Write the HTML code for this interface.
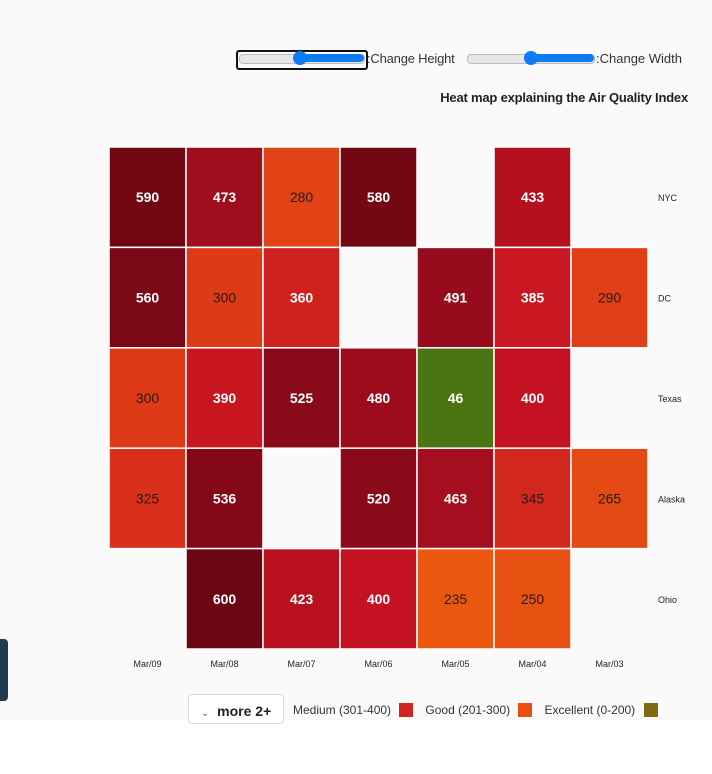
<!DOCTYPE html>
<html><head><meta charset="utf-8"><style>
body{margin:0;width:712px;height:774px;background:#fff;font-family:"Liberation Sans","DejaVu Sans",sans-serif;position:relative;overflow:hidden}
#bg{position:absolute;left:0;top:0;width:712px;height:720px;background:#fafafa}
.slider{position:absolute;height:8px;border-radius:4px;background:#e6e6e6;border:1px solid #bbb}
.slider .fill{position:absolute;right:0;top:-1px;height:8px;background:#0d7cf2;border-radius:4px}
.slider .thumb{position:absolute;top:-4px;width:14px;height:14px;border-radius:50%;background:#0d7cf2}
.lbl{position:absolute;font-size:13px;color:#333}
</style></head><body>
<div id="bg"></div>
<div style="position:absolute;left:236px;top:50px;width:128px;height:16px;border:2px solid #111;border-radius:3px"></div>
<div class="slider" style="left:239px;top:54px;width:124px"><div class="fill" style="width:66px"></div><div class="thumb" style="left:53px"></div></div>
<div class="lbl" style="left:367px;top:51px;letter-spacing:-0.2px">:Change Height</div>
<div class="slider" style="left:467px;top:54px;width:126px"><div class="fill" style="width:66px"></div><div class="thumb" style="left:56px"></div></div>
<div class="lbl" style="left:596px;top:51px">:Change Width</div>
<div style="position:absolute;right:24px;top:90px;font-size:13px;font-weight:bold;color:#222;letter-spacing:-0.2px">Heat map explaining the Air Quality Index</div>
<svg id="hm" width="712" height="720" style="position:absolute;left:0;top:0"></svg>
<div style="position:absolute;left:-4px;top:639px;width:12px;height:62px;background:#1e3b50;border-radius:4px"></div>
<div style="position:absolute;left:188px;top:694px;width:96px;height:30px;border:1px solid #ddd;border-radius:4px;background:#fff;font-size:14px;font-weight:bold;color:#222;box-sizing:border-box;padding:8px 0 0 12px"><span style="font-weight:normal;font-size:10px;color:#666">⌄</span>&nbsp; more 2+</div>
<div style="position:absolute;left:293px;top:703px;font-size:12px;color:#333;white-space:nowrap">
<span>Medium (301-400) <span style="display:inline-block;width:14px;height:14px;background:#d2231f;vertical-align:-3px;margin:0 12px 0 5px"></span></span><span>Good (201-300) <span style="display:inline-block;width:14px;height:14px;background:#e94e14;vertical-align:-3px;margin:0 12px 0 5px"></span></span><span>Excellent (0-200) <span style="display:inline-block;width:14px;height:14px;background:#7f6a10;vertical-align:-3px;margin-left:5px"></span></span>
</div>
<script>
const columns=["Mar/09","Mar/08","Mar/07","Mar/06","Mar/05","Mar/04","Mar/03"];
const rows=["NYC","DC","Texas","Alaska","Ohio"];
const nycValues=[590,473,280,580,null,433,null];
const dcValues=[560,300,360,null,491,385,290];
const texasValues=[300,390,525,480,46,400,null];
const alaskaValues=[325,536,null,520,463,345,265];
const ohioValues=[null,600,423,400,235,250,null];
const values=[nycValues,dcValues,texasValues,alaskaValues,ohioValues];
const X0=109,CW=77,Y0=147,RH=100.4;
const xPos=i=>X0+i*CW, yPos=j=>Y0+j*RH;
const stops=[[200,[74,117,18]],[201,[236,96,14]],[235,[234,88,16]],[300,[222,58,24]],[400,[197,18,34]],[500,[146,11,27]],[600,[108,6,18]]];
function color(v){
  if(v<=200) return 'rgb(74,117,18)';
  for(let k=1;k<stops.length;k++){if(v<=stops[k][0]){const a=stops[k-1],b=stops[k];const t=(v-a[0])/(b[0]-a[0]);return 'rgb('+a[1].map((c,i)=>Math.round(c+(b[1][i]-c)*t)).join(',')+')';}}
  return 'rgb(108,6,18)';
}
const svg=document.getElementById('hm');const NS='http://www.w3.org/2000/svg';
function mk(t,a){const e=document.createElementNS(NS,t);for(const k in a)e.setAttribute(k,a[k]);svg.appendChild(e);return e;}
values.forEach((row,j)=>row.forEach((v,i)=>{
  if(v===null)return;
  const r=mk('rect',{x:xPos(i),y:yPos(j),width:CW,height:RH,fill:color(v),stroke:'#fff','stroke-width':1.5});
  
  
  const dark=v>200&&v<=350;
  const t=mk('text',{x:xPos(i)+CW/2,y:yPos(j)+RH/2+5,'text-anchor':'middle','font-size':14,'font-weight':dark?'normal':'bold',fill:dark?'#2a1a14':'#fff','font-family':'Liberation Sans, sans-serif'});
  t.textContent=v;
  
  
}));
rows.forEach((n,j)=>{const t=mk('text',{x:658,y:yPos(j)+RH/2+4,'font-size':9,fill:'#222','font-family':'Liberation Sans, sans-serif'});t.textContent=n;
  
  });
columns.forEach((n,i)=>{const t=mk('text',{x:xPos(i)+CW/2,y:667,'text-anchor':'middle','font-size':9,fill:'#222','font-family':'Liberation Sans, sans-serif'});t.textContent=n;
  
  });
</script>
</body></html>
